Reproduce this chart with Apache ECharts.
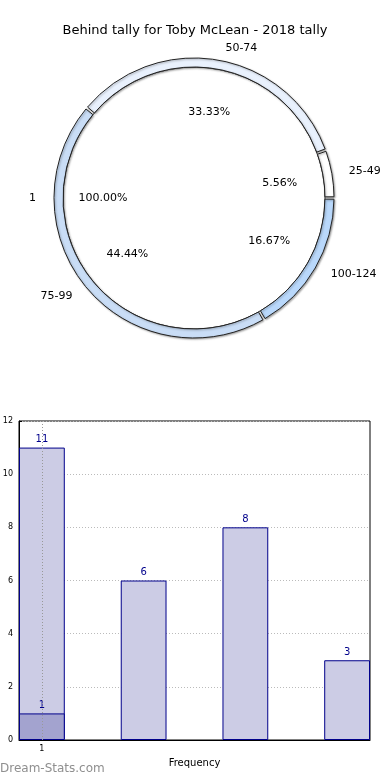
<!DOCTYPE html>
<html>
<head>
<meta charset="utf-8">
<script src="https://cdn.jsdelivr.net/npm/echarts@6/dist/echarts.min.js"></script>
<style>
html,body{margin:0;padding:0;background:#fff;}
#c{width:390px;height:780px;}
</style>
</head>
<body>
<div id="c"></div>
<script>
// ---- data ----
var titleText = 'Behind tally for Toby McLean - 2018 tally';
var innerNames = ['1'];
var innerValues = [18];
var ringNames = ['25-49', '50-74', '75-99', '100-124'];
var ringValues = [1, 6, 8, 3];
var barX = [1, 2, 3, 4];
var barValues = [11, 6, 8, 3];
var overlayX = [1];
var overlayValues = [1];
var yTicks = [0, 2, 4, 6, 8, 10, 12];
var xTickLabels = [1];

var ringColors = ['#ffffff', '#e9f1fd', '#c9ddf6', '#b9d8fb'];
var FONT = 'DejaVu Sans';

function pct(p) { return p.percent.toFixed(2) + '%'; }

var innerData = innerNames.map(function (n, i) { return { name: n, value: innerValues[i] }; });
var ringData = ringNames.map(function (n, i) {
  return { name: n, value: ringValues[i], itemStyle: { color: ringColors[i] } };
});
var center = [194, 198];
var R_IN = 131, R_OUT = 140;

var chart = echarts.init(document.getElementById('c'), null, { renderer: 'canvas' });
chart.setOption({
  animation: false,
  textStyle: { fontFamily: FONT },
  title: {
    text: titleText, left: 'center', top: 19,
    textStyle: { fontFamily: FONT, fontSize: 13, fontWeight: 'normal', color: '#000' }
  },
  grid: {
    left: 19, right: 20, top: 421, bottom: 40,
    containLabel: false, outerBoundsMode: 'none',
    show: true, borderColor: '#000', borderWidth: 1, backgroundColor: 'transparent'
  },
  xAxis: {
    type: 'value', min: 0.775, max: 4.225,
    name: 'Frequency', nameLocation: 'middle', nameGap: 18,
    nameTextStyle: { fontFamily: FONT, fontSize: 10, color: '#000' },
    axisLine: { show: true, lineStyle: { color: '#000' } },
    axisTick: { show: true, inside: true, length: 3, customValues: xTickLabels, lineStyle: { color: '#000' } },
    axisLabel: { customValues: xTickLabels, fontFamily: FONT, fontSize: 8, color: '#000', margin: 5 },
    splitLine: { show: false }
  },
  yAxis: {
    type: 'value', min: yTicks[0], max: yTicks[yTicks.length - 1], interval: 2,
    name: 'Total Tally', nameLocation: 'middle', nameGap: 19,
    nameTextStyle: { fontFamily: FONT, fontSize: 9, color: '#000' },
    axisLine: { show: true, lineStyle: { color: '#000' } },
    axisTick: { show: true, inside: true, length: 3, lineStyle: { color: '#000' } },
    axisLabel: { fontFamily: FONT, fontSize: 8, color: '#000', margin: 6 },
    splitLine: { show: true, lineStyle: { color: '#bbbbbb', type: [1, 2], width: 1 } }
  },
  graphic: [{
    type: 'text', left: 0, top: 763, silent: true,
    style: { text: 'Dream-Stats.com', fill: '#8f8f8f', font: '12px "DejaVu Sans"' }
  }],
  series: [
    {
      type: 'pie', center: center, radius: [0, R_IN], startAngle: 0, clockwise: false,
      avoidLabelOverlap: false, silent: true,
      data: innerData,
      itemStyle: { color: '#ffffff', borderColor: '#222', borderWidth: 1 },
      label: { show: true, position: 'outside', fontFamily: FONT, fontSize: 11, color: '#000', formatter: '{b}' },
      labelLine: { show: false, length: 22, length2: 0 }
    },
    {
      type: 'pie', center: center, radius: [R_IN, R_OUT], startAngle: 0, clockwise: false,
      avoidLabelOverlap: false, silent: true, padAngle: 1,
      data: ringData,
      itemStyle: { borderColor: '#222', borderWidth: 1, shadowBlur: 2, shadowColor: 'rgba(0,0,0,0.35)', shadowOffsetX: 1, shadowOffsetY: 1 },
      label: { show: true, position: 'outside', fontFamily: FONT, fontSize: 11, color: '#000', formatter: '{b}' },
      labelLine: { show: false, length: 12, length2: 0 }
    },
    {
      type: 'pie', center: center, radius: [0, 168], startAngle: 0, clockwise: false,
      avoidLabelOverlap: false, silent: true, z: 5,
      data: ringNames.map(function (n, i) { return { name: n, value: ringValues[i] }; }),
      itemStyle: { color: 'rgba(0,0,0,0)', borderWidth: 0 },
      label: { show: true, position: 'inside', fontFamily: FONT, fontSize: 11, color: '#000', formatter: pct },
      labelLine: { show: false }
    },
    {
      type: 'pie', center: center, radius: [0, 176], startAngle: 0, clockwise: false,
      avoidLabelOverlap: false, silent: true, z: 5,
      data: innerNames.map(function (n, i) { return { name: n, value: innerValues[i] }; }),
      itemStyle: { color: 'rgba(0,0,0,0)', borderWidth: 0 },
      label: { show: true, position: 'inside', fontFamily: FONT, fontSize: 11, color: '#000', formatter: pct },
      labelLine: { show: false }
    },
    {
      type: 'bar', barWidth: '45%', barGap: '-100%',
      data: barX.map(function (x, i) { return [x, barValues[i]]; }),
      itemStyle: { color: '#ccccE5', borderColor: '#00008b', borderWidth: 1 },
      label: { show: true, position: 'top', distance: 3, fontFamily: FONT, fontSize: 10, color: '#00008b',
        formatter: function (p) { return p.value[1]; } },
      markLine: {
        silent: true, symbol: 'none', label: { show: false },
        lineStyle: { color: '#999', type: [1, 2], width: 1 },
        data: [{ xAxis: xTickLabels[0] }]
      }
    },
    {
      type: 'bar', barWidth: '45%', barGap: '-100%',
      data: overlayX.map(function (x, i) { return [x, overlayValues[i]]; }),
      itemStyle: { color: '#a3a3cf', borderColor: '#00008b', borderWidth: 1 },
      label: { show: true, position: 'top', distance: 3, fontFamily: FONT, fontSize: 10, color: '#00008b',
        formatter: function (p) { return p.value[1]; } }
    }
  ]
});
</script>
</body>
</html>
